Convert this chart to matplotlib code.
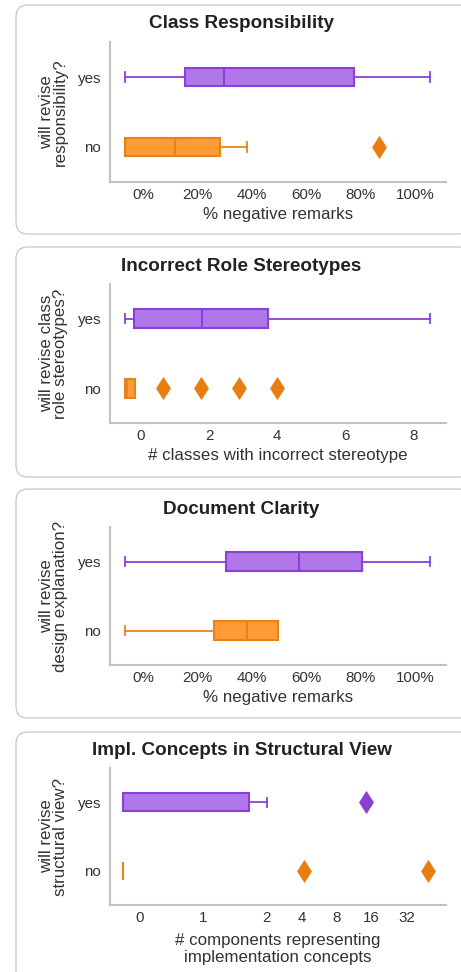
import numpy as np
import matplotlib
matplotlib.use('agg')
import matplotlib.pyplot as plt
from matplotlib.patches import FancyBboxPatch

plt.rcParams['font.family'] = ['Liberation Sans', 'DejaVu Sans']

groups = ['yes', 'no']

# five-number summaries, per panel: [yes, no]
resp_whislo = [-6.6, -6.6]
resp_q1 = [15.6, -6.6]
resp_med = [29.8, 11.8]
resp_q3 = [77.6, 28.5]
resp_whishi = [105.5, 38.2]
resp_fliers = [[], [86.8]]

stereo_whislo = [-0.46, -0.46]
stereo_q1 = [-0.19, -0.46]
stereo_med = [1.78, -0.40]
stereo_q3 = [3.73, -0.17]
stereo_whishi = [8.46, -0.17]
stereo_fliers = [[], [0.66, 1.76, 2.88, 4.0]]

clarity_whislo = [-6.6, -6.6]
clarity_q1 = [30.7, 26.0]
clarity_med = [57.5, 38.2]
clarity_q3 = [80.4, 49.7]
clarity_whishi = [105.5, 49.7]
clarity_fliers = [[], []]

impl_whislo = [-0.26, -0.26]
impl_q1 = [-0.26, -0.26]
impl_med = [-0.26, -0.26]
impl_q3 = [1.72, -0.26]
impl_whishi = [2.0, -0.26]
impl_fliers = [[14.3], [4.2, 49.0]]

pct_ticks = [0, 20, 40, 60, 80, 100]
pct_labels = ['0%', '20%', '40%', '60%', '80%', '100%']
count_ticks = [0, 2, 4, 6, 8]
impl_ticks = [0, 1, 2, 4, 8, 16, 32]

FILL = ['#b077ea', '#ff9b35']
EDGE = ['#8a40d8', '#e8821a']
FLIER = ['#8a3fd0', '#e87e10']
TEXT = '#333333'
W, H = 461, 972


def stats(whislo, q1, med, q3, whishi, fliers):
    out = []
    for i in range(len(groups)):
        out.append(dict(whislo=whislo[i], q1=q1[i], med=med[i], q3=q3[i],
                        whishi=whishi[i], fliers=fliers[i], label=groups[i]))
    return out


def drawCard(fig, top, bottom):
    card = FancyBboxPatch((16 / 100, (H - bottom) / 100), (470 - 16) / 100,
                          (bottom - top) / 100,
                          boxstyle='round,pad=0,rounding_size=0.12',
                          transform=fig.dpi_scale_trans,
                          fc='white', ec='#c6c6c6', lw=0.9, zorder=-10)
    fig.patches.append(card)


def drawPanel(fig, top, bottom, title, ylabel, xlabel, bstats, xlabel_y=-0.235):
    ax = fig.add_axes([110 / W, (H - bottom) / H, 336 / W, (bottom - top) / H])
    ax.set_zorder(5)
    ax.patch.set_alpha(0)
    for i, s in enumerate(bstats):
        bp = ax.bxp([s], positions=[i], widths=0.27, vert=False,
                    patch_artist=True, showfliers=True)
        for b in bp['boxes']:
            b.set(facecolor=FILL[i], edgecolor=EDGE[i], linewidth=1.5)
        for ln in bp['medians']:
            ln.set(color=EDGE[i], linewidth=1.5)
        for ln in bp['whiskers'] + bp['caps']:
            ln.set(color=EDGE[i], linewidth=1.3)
        for ln in bp['fliers']:
            ln.set(marker='d', markersize=11.5, markerfacecolor=FLIER[i],
                   markeredgecolor=FLIER[i], markeredgewidth=0.5)
    ax.set_ylim(1.5, -0.5)
    ax.set_yticks(range(len(groups)))
    ax.set_yticklabels(groups)
    for side in ['top', 'right']:
        ax.spines[side].set_visible(False)
    for side in ['left', 'bottom']:
        ax.spines[side].set_color('#c2c2c2')
        ax.spines[side].set_linewidth(1.5)
    ax.tick_params(axis='both', length=0, labelsize=10.9, labelcolor=TEXT)
    ax.tick_params(axis='x', pad=4)
    ax.tick_params(axis='y', pad=6.5)
    ax.set_ylabel(ylabel, fontsize=12.2, color=TEXT, linespacing=0.85)
    ax.yaxis.label.set_va('center')
    ax.yaxis.set_label_coords(-0.168, 0.5)
    ax.set_xlabel(xlabel, fontsize=12.2, color=TEXT, linespacing=1.12)
    ax.xaxis.label.set_va('center')
    ax.xaxis.set_label_coords(0.5, xlabel_y)
    fig.text(241.5 / W, 1 - (top - 18) / H, title, ha='center', va='center',
             fontsize=13.6, fontweight='bold', color='#222222')
    return ax


fig = plt.figure(figsize=(W / 100, H / 100), dpi=100)

drawCard(fig, 5, 234)
drawCard(fig, 247, 477)
drawCard(fig, 489, 718)
drawCard(fig, 732, 1000)

ax = drawPanel(fig, 42, 182, 'Class Responsibility',
               'will revise\nresponsibility?', '% negative remarks',
               stats(resp_whislo, resp_q1, resp_med, resp_q3, resp_whishi, resp_fliers))
ax.set_xlim(-12.1, 111.4)
ax.set_xticks(pct_ticks)
ax.set_xticklabels(pct_labels)

ax = drawPanel(fig, 284, 423, 'Incorrect Role Stereotypes',
               'will revise class\nrole stereotypes?', '# classes with incorrect stereotype',
               stats(stereo_whislo, stereo_q1, stereo_med, stereo_q3, stereo_whishi, stereo_fliers))
ax.set_xlim(-0.90, 8.94)
ax.set_xticks(count_ticks)

ax = drawPanel(fig, 527, 665, 'Document Clarity',
               'will revise\ndesign explanation?', '% negative remarks',
               stats(clarity_whislo, clarity_q1, clarity_med, clarity_q3, clarity_whishi, clarity_fliers))
ax.set_xlim(-12.1, 111.4)
ax.set_xticks(pct_ticks)
ax.set_xticklabels(pct_labels)

ax = drawPanel(fig, 768, 905, 'Impl. Concepts in Structural View',
               'will revise\nstructural view?', '# components representing\nimplementation concepts',
               stats(impl_whislo, impl_q1, impl_med, impl_q3, impl_whishi, impl_fliers),
               xlabel_y=-0.32)
ax.set_xscale('symlog', base=2, linthresh=2, linscale=1.81)
ax.set_xlim(-0.47, 69.6)
ax.set_xticks(impl_ticks)
ax.set_xticklabels([str(t) for t in impl_ticks])
ax.xaxis.set_minor_locator(matplotlib.ticker.NullLocator())

plt.savefig('out.png', dpi=100)
plt.close()
